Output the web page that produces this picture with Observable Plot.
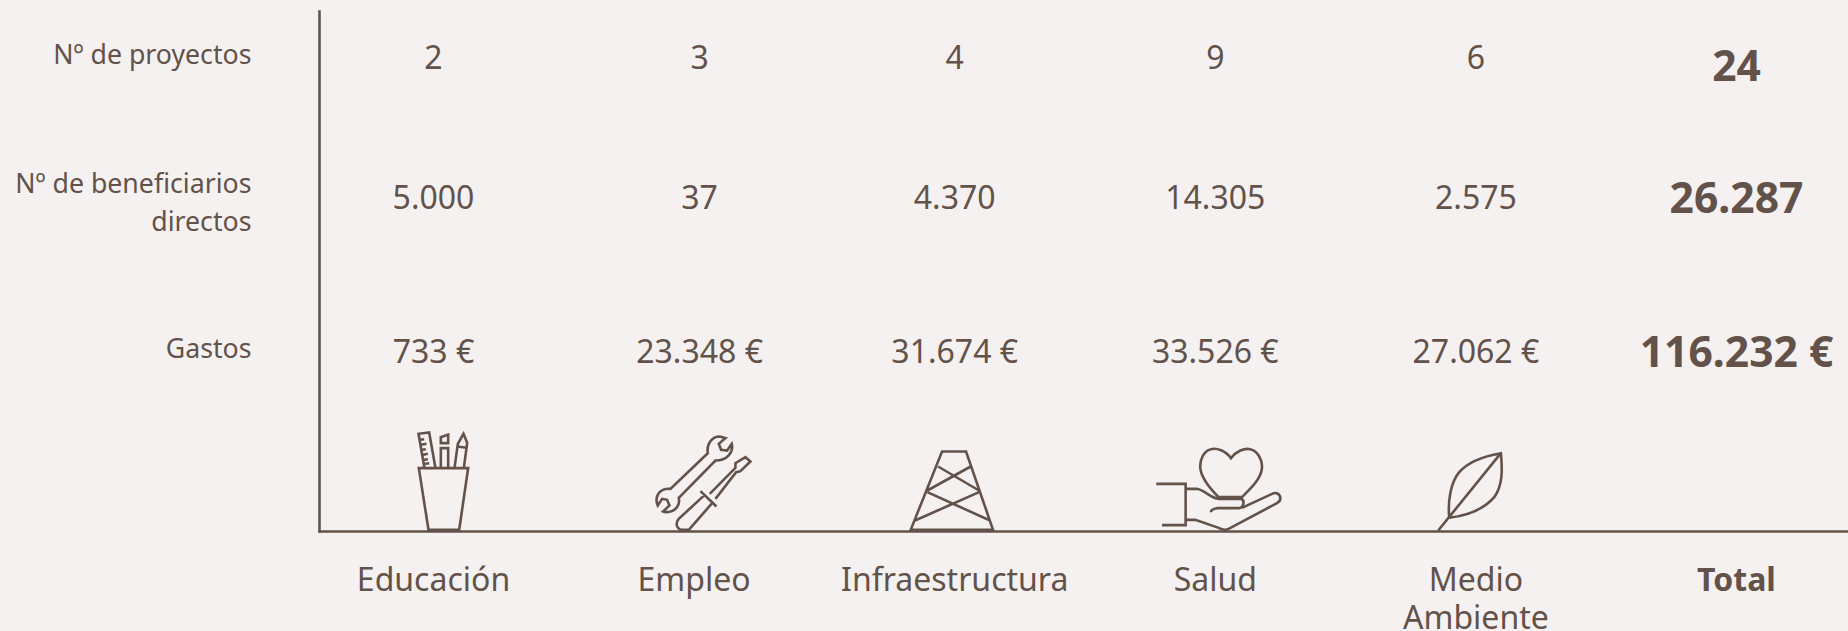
<!DOCTYPE html>
<html lang="es">
<head>
<meta charset="utf-8">
<script src="https://cdn.jsdelivr.net/npm/d3@7"></script>
<script src="https://cdn.jsdelivr.net/npm/@observablehq/plot@0.6"></script>
<style>
html,body{margin:0;padding:0;background:#f4f1f0;overflow:hidden}
svg{display:block}
</style>
</head>
<body>
<div id="chart"></div>
<script>
const categories = ["Educación", "Empleo", "Infraestructura", "Salud", "Medio\nAmbiente", "Total"];
const rowLabels = ["Nº de proyectos", "Nº de beneficiarios\ndirectos", "Gastos"];
const proyectos = [2, 3, 4, 9, 6, 24];
const beneficiarios = [5000, 37, 4370, 14305, 2575, 26287];
const gastos = [733, 23348, 31674, 33526, 27062, 116232];

const INK = "#63524a";
const FONT = "'Noto Sans', sans-serif";
const es = d3.formatLocale({decimal: ",", thousands: ".", grouping: [3], currency: ["", " €"]});
const num = es.format(",d");
const eur = v => num(v) + " €";

// Line-art glyphs, traced in 3x units around an anchor (column centre, baseline)
function glyph(d, ox, oy) {
  const tokens = d.match(/[MLCZ]|-?[\d.]+/g);
  return {
    draw(ctx) {
      let i = 0;
      const X = () => (+tokens[i++] - ox) / 3, Y = () => (+tokens[i++] - oy) / 3;
      let cmd = null;
      while (i < tokens.length) {
        if (/[MLCZ]/.test(tokens[i])) cmd = tokens[i++];
        if (cmd === "Z") { ctx.closePath(); continue; }
        if (cmd === "M") { ctx.moveTo(X(), Y()); cmd = "L"; }
        else if (cmd === "L") ctx.lineTo(X(), Y());
        else if (cmd === "C") { const a=X(),b=Y(),c=X(),e=Y(),f=X(),g=Y(); ctx.bezierCurveTo(a,b,c,e,f,g); }
      }
    }
  };
}
const icons = {
  "Educación": glyph("M355 173 L503 173 L476 358 L384 358 Z M372 173 L354 70 L386 66 L405 173 M359 88 L371 86 M362 103 L378 100 M365 118 L376 116 M368 133 L382 130 M371 148 L382 146 M374 160 L386 158 M421 173 L421 113 L443 113 L443 173 M421 98 L421 80 L443 72 L443 98 Z M462 173 L472 100 L489 70 L500 97 L490 173 M472 108 L497 112", 399, 363),
  "Empleo": glyph("M1222 128 C1218 100 1235 78 1258 78 L1275 83 L1255 100 L1262 118 L1280 120 L1294 100 C1300 125 1280 150 1245 150 L1135 262 C1140 285 1125 305 1095 305 L1088 303 L1107 285 L1100 268 L1085 265 L1072 285 C1060 255 1080 232 1110 235 Z M1200 242 L1248 288 M1212 254 L1135 325 C1120 345 1135 360 1150 358 L1165 358 L1235 278 M1228 250 L1305 172 L1305 158 L1335 140 L1350 153 L1320 182 L1307 185 L1245 265", 1181, 363),
  "Infraestructura": glyph("M424 123 L496 123 L577 358 L330 358 Z M412 168 L535 240 M510 168 L380 240 M380 245 L568 330 M535 245 L343 330", 462, 363),
  "Salud": glyph("M1292 143 C1275 120 1250 112 1232 116 C1210 120 1198 150 1200 172 C1203 205 1235 240 1255 260 L1325 260 C1350 235 1383 205 1385 172 C1387 150 1372 120 1350 116 C1332 112 1308 122 1292 143 Z M1068 220 L1156 220 L1156 344 L1085 344 M1156 235 L1190 235 C1215 240 1230 262 1255 265 L1322 265 C1335 270 1330 292 1315 293 L1250 293 C1238 295 1232 300 1232 305 M1325 292 L1420 248 C1440 245 1448 268 1430 278 L1285 355 C1275 360 1265 358 1255 352 L1185 328 L1156 328", 1245, 363),
  "Medio\nAmbiente": glyph("M22 270 L210 38 M55 232 C50 180 60 125 85 95 C115 60 170 45 210 38 C215 90 215 135 190 170 C160 205 110 225 55 232 Z", 135, 273)
};

const rows = [
  {key: rowLabels[0], values: proyectos, fmt: num, dy: 0, labelDy: -6.5, totalDy: 9},
  {key: rowLabels[1], values: beneficiarios, fmt: num, dy: -6.5, labelDy: -5.5, totalDy: -5.5},
  {key: rowLabels[2], values: gastos, fmt: eur, dy: 1, labelDy: -5.5, totalDy: 2}
];
const columnDx = c => c === "Empleo" ? 5.5 : 0;

const marks = [
  Plot.frame({anchor: "left", stroke: INK, strokeWidth: 2.6, strokeOpacity: 1}),
  Plot.frame({anchor: "bottom", stroke: INK, strokeWidth: 2.6, strokeOpacity: 1})
];
for (const r of rows) {
  marks.push(Plot.text([r.key], {
    y: d => d, frameAnchor: "left", dx: -68, dy: r.labelDy, text: d => d,
    textAnchor: "end", fontSize: 26.7, lineHeight: 1.42, fill: INK
  }));
  categories.slice(0, 5).forEach((c, i) => {
    marks.push(Plot.text([c], {
      x: d => d, y: () => r.key, dx: columnDx(c), dy: r.dy,
      text: () => r.fmt(r.values[i]), fontSize: 32, fill: INK
    }));
  });
  marks.push(Plot.text(["Total"], {
    x: d => d, y: () => r.key, dy: r.totalDy,
    text: () => r.fmt(r.values[5]), fontSize: 42.6, fontWeight: 700, fill: INK
  }));
}
for (const c of categories.slice(0, 5)) {
  marks.push(Plot.dot([c], {
    x: d => d, frameAnchor: "bottom", symbol: icons[c], r: 10,
    stroke: INK, strokeWidth: 2.6, fill: "none", strokeLinejoin: "miter"
  }));
  marks.push(Plot.text([c], {
    x: d => d, frameAnchor: "bottom", dy: 33, lineAnchor: "top",
    text: d => d, fontSize: 32, lineHeight: 1.17, fill: INK
  }));
}
marks.push(Plot.text(["Total"], {
  x: d => d, frameAnchor: "bottom", dy: 33, lineAnchor: "top",
  text: d => d, fontSize: 32, lineHeight: 1.17, fontWeight: 700, fill: INK
}));

const chart = Plot.plot({
  width: 1848,
  height: 631,
  marginLeft: 319, marginRight: 0, marginTop: 11, marginBottom: 100,
  style: {background: "#f4f1f0", fontFamily: FONT, color: INK, overflow: "visible"},
  x: {type: "point", domain: categories, range: [433, 1736], padding: 0, round: false, axis: null},
  y: {type: "point", domain: rowLabels, range: [58, 351], padding: 0, round: false, axis: null},
  marks
});
document.getElementById("chart").append(chart);
</script>
</body>
</html>
